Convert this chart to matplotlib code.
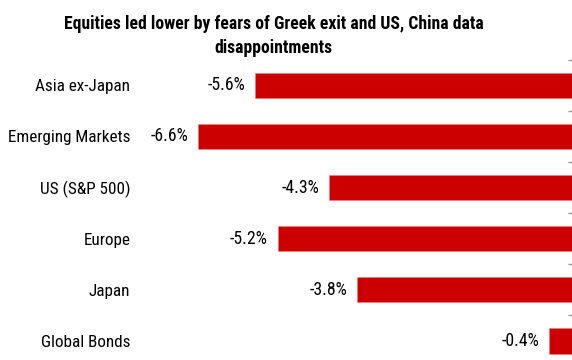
import matplotlib
matplotlib.use("Agg")
import matplotlib.pyplot as plt
import numpy as np

plt.rcParams['font.family'] = ['Roboto Condensed', 'Liberation Sans', 'DejaVu Sans']

# Performance by asset class
categories = ['Asia ex-Japan', 'Emerging Markets', 'US (S&P 500)', 'Europe', 'Japan', 'Global Bonds']
returns = [-5.6, -6.6, -4.3, -5.2, -3.8, -0.4]
title = 'Equities led lower by fears of Greek exit and US, China data\ndisappointments'

fig = plt.figure(figsize=(5.72, 3.6), dpi=100)
# axes reaches past the bottom of the figure so the last row sits at the edge
ax = fig.add_axes([140 / 572, -6.6 / 360, 432 / 572, 307 / 360])

y = np.arange(len(categories))
ax.barh(y, returns, height=0.49, color='#cc0000', edgecolor='#e88080', linewidth=0.4)

ax.set_xlim(-432 / 56.6, 0)
ax.set_ylim(len(categories) - 0.5, -0.5)

for yi, v in zip(y, returns):
    ax.annotate(f'{v:.1f}%', (v, yi), xytext=(-7, 0), textcoords='offset points',
                ha='right', va='center', fontsize=12.8, color='#000000')

ax.set_yticks(y)
ax.set_yticklabels(categories, fontsize=12.3)
ax.set_yticks(np.arange(len(categories)) - 0.5, minor=True)
ax.tick_params(axis='y', which='major', left=False, right=False, length=0, pad=7)
ax.tick_params(axis='y', which='minor', left=False, right=True, direction='in',
               length=3, width=1, color='#999999')
ax.set_xticks([])
for s in ax.spines.values():
    s.set_visible(False)

fig.text(0.478, 0.958, title, ha='center', va='top', fontsize=12.7, fontweight='bold',
         linespacing=1.45)

fig.savefig('out.png', dpi=100)
